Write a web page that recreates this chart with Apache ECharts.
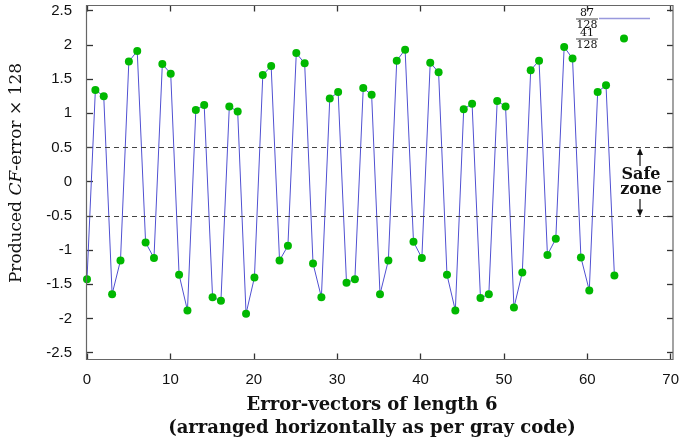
<!DOCTYPE html>
<html>
<head>
<meta charset="utf-8">
<script src="https://cdn.jsdelivr.net/npm/echarts@6/dist/echarts.min.js"></script>
<style>html,body{margin:0;padding:0;background:#fff}#c{width:682px;height:444px}</style>
</head>
<body>
<div id="c"></div>
<script>
// Error-vector index (gray-code order)
const xIndex = [];
for (let i = 0; i < 64; i++) xIndex.push(i);
// Produced CF-error x 128
const errValues = [
  -1.425, 1.34, 1.25, -1.645, -1.151, 1.757, 1.91, -0.888,
  -1.117, 1.72, 1.58, -1.36, -1.883, 1.05, 1.12, -1.69,
  -1.74, 1.10, 1.025, -1.93, -1.40, 1.56, 1.69, -1.151,
  -0.937, 1.88, 1.73, -1.195, -1.69, 1.215, 1.31, -1.478,
  -1.425, 1.37, 1.27, -1.645, -1.151, 1.77, 1.93, -0.878,
  -1.117, 1.74, 1.60, -1.36, -1.883, 1.06, 1.14, -1.70,
  -1.645, 1.18, 1.10, -1.84, -1.327, 1.63, 1.77, -1.07,
  -0.834, 1.97, 1.80, -1.107, -1.59, 1.31, 1.41, -1.37
];
const safeBounds = [0.5, -0.5];
const yTicks = [-2.5, -2, -1.5, -1, -0.5, 0, 0.5, 1, 1.5, 2, 2.5];
const xTicks = [0, 10, 20, 30, 40, 50, 60, 70];

const pts = xIndex.map((x, i) => [x, errValues[i]]);

const chart = echarts.init(document.getElementById('c'), null, {renderer: 'canvas'});
const tickFont = {fontFamily: 'Liberation Sans, Arial, sans-serif', fontSize: 15, color: '#111'};
const serif = 'DejaVu Serif, serif';
const mkTick = () => ({show: true, inside: true, length: 6, lineStyle: {color: '#333', width: 1.3}});

function fraction(num, x, y) {
  return [
    {type: 'text', x: x, y: y, z: 10, style: {text: num, fontFamily: serif, fontSize: 11, fill: '#111', align: 'center', verticalAlign: 'bottom'}},
    {type: 'line', z: 10, shape: {x1: x - 11, y1: y + 0.5, x2: x + 11, y2: y + 0.5}, style: {stroke: '#111', lineWidth: 0.8}},
    {type: 'text', x: x, y: y + 1.5, z: 10, style: {text: '128', fontFamily: serif, fontSize: 11, fill: '#111', align: 'center', verticalAlign: 'top'}}
  ];
}

chart.setOption({
  animation: false,
  grid: [
    {left: 87, right: 9, top: 10.7, bottom: 91.3, containLabel: false},
    {left: 87, right: 9, top: 5.5, bottom: 84.5, containLabel: false}
  ],
  xAxis: [{
    gridIndex: 0, type: 'value', min: 0, max: 70, interval: 10, show: false
  }, {
    gridIndex: 1, type: 'value', min: 0, max: 70, interval: 10, position: 'bottom',
    axisLine: {show: true, onZero: false, lineStyle: {color: '#666', width: 1.2}},
    axisTick: mkTick(),
    axisLabel: Object.assign({margin: 13, formatter: v => xTicks.includes(v) ? String(v) : ''}, tickFont),
    splitLine: {show: false}
  }, {
    gridIndex: 1, type: 'value', min: 0, max: 70, interval: 10, position: 'top',
    axisLine: {show: true, onZero: false, lineStyle: {color: '#666', width: 1.2}},
    axisTick: mkTick(),
    axisLabel: {show: false}, splitLine: {show: false}
  }],
  yAxis: [{
    gridIndex: 0, type: 'value', min: -2.5, max: 2.5, interval: 0.5, position: 'left',
    axisLine: {show: false, onZero: false},
    axisTick: mkTick(),
    axisLabel: Object.assign({margin: 15, formatter: v => yTicks.includes(v) ? String(v) : ''}, tickFont),
    splitLine: {show: false}
  }, {
    gridIndex: 0, type: 'value', min: -2.5, max: 2.5, interval: 0.5, position: 'right',
    axisLine: {show: false, onZero: false},
    axisTick: mkTick(),
    axisLabel: {show: false}, splitLine: {show: false}
  }, {
    gridIndex: 1, type: 'value', min: 0, max: 1, show: false
  }],
  series: [{
    name: '87/128', type: 'line', xAxisIndex: 0, yAxisIndex: 0, data: pts, showSymbol: false, symbol: 'none',
    lineStyle: {color: '#5050d2', width: 1}, z: 2,
    markLine: {
      silent: true, symbol: 'none', label: {show: false},
      lineStyle: {color: '#444', type: [5, 4], width: 1.2},
      data: safeBounds.map(v => ({yAxis: v}))
    }
  }, {
    name: '41/128', type: 'scatter', xAxisIndex: 0, yAxisIndex: 0, data: pts, symbol: 'circle', symbolSize: 8,
    itemStyle: {color: '#00b800', opacity: 1}, z: 3
  }],
  graphic: [
    {type: 'rect', z: 5, shape: {x: 86.5, y: 5.5, width: 586.5, height: 354}, style: {fill: 'none', stroke: '#666', lineWidth: 1.2}},
    // legend
    ...fraction('87', 587, 18.5),
    ...fraction('41', 587, 38.5),
    {type: 'line', z: 10, shape: {x1: 599, y1: 18.5, x2: 650, y2: 18.5}, style: {stroke: '#9999dd', lineWidth: 1.3}},
    {type: 'circle', z: 10, shape: {cx: 624, cy: 38.5, r: 4}, style: {fill: '#00b800'}},
    // safe zone
    {type: 'text', z: 10, x: 641, y: 175, style: {text: 'Safe', fontFamily: serif, fontWeight: 'bold', fontSize: 16, fill: '#111', align: 'center', verticalAlign: 'middle'}},
    {type: 'text', z: 10, x: 641, y: 190, style: {text: 'zone', fontFamily: serif, fontWeight: 'bold', fontSize: 16, fill: '#111', align: 'center', verticalAlign: 'middle'}},
    {type: 'line', z: 10, shape: {x1: 640, y1: 166, x2: 640, y2: 152}, style: {stroke: '#111', lineWidth: 1.2}},
    {type: 'polygon', z: 10, shape: {points: [[640, 148], [637, 155], [643, 155]]}, style: {fill: '#111'}},
    {type: 'line', z: 10, shape: {x1: 640, y1: 199, x2: 640, y2: 212}, style: {stroke: '#111', lineWidth: 1.2}},
    {type: 'polygon', z: 10, shape: {points: [[640, 216.5], [637, 209.5], [643, 209.5]]}, style: {fill: '#111'}},
    // x title
    {type: 'text', z: 10, x: 372, y: 405, style: {text: 'Error-vectors of length 6', fontFamily: serif, fontWeight: 'bold', fontSize: 18, fill: '#111', align: 'center', verticalAlign: 'middle'}},
    {type: 'text', z: 10, x: 372, y: 428, style: {text: '(arranged horizontally as per gray code)', fontFamily: serif, fontWeight: 'bold', fontSize: 18, fill: '#111', align: 'center', verticalAlign: 'middle'}},
    // y title
    {type: 'text', z: 10, x: 17, y: 173, rotation: Math.PI / 2,
      style: {text: '{a|Produced }{b|CF}{a|-error × 128}', align: 'center', verticalAlign: 'middle',
        rich: {a: {fontFamily: serif, fontSize: 17, fill: '#111'}, b: {fontFamily: serif, fontStyle: 'italic', fontSize: 17, fill: '#111'}}}}
  ]
});
</script>
</body>
</html>
